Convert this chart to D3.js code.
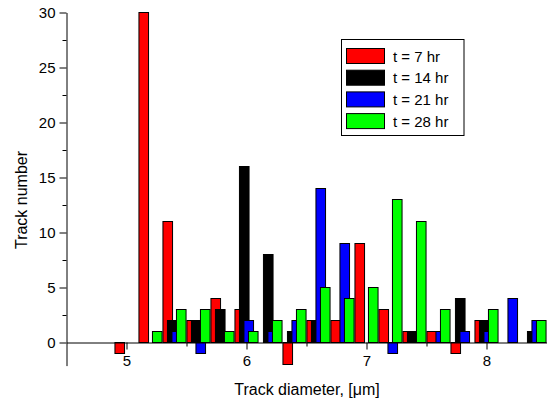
<!DOCTYPE html>
<html>
<head>
<meta charset="utf-8">
<script src="https://cdn.jsdelivr.net/npm/d3@7"></script>
<style>
  body { margin: 0; background: #fff; }
  svg text { font-family: "Liberation Sans", Arial, sans-serif; fill: #000; }
</style>
</head>
<body>
<script>
// frame constants
const FRAME_WIDTH = 547;
const FRAME_HEIGHT = 405;

// bin centers (track diameter, um)
const DIAMETERS = [5.0, 5.2, 5.4, 5.6, 5.8, 6.0, 6.2, 6.4, 6.6, 6.8, 7.0, 7.2, 7.4, 7.6, 7.8, 8.0, 8.2, 8.4];

// track counts per series
const T7 =  [-1, 30, 11, 2, 4, 3, 0, -2, 2, 2, 9, 3, 1, 1, -1, 2, 0, 0];
const T14 = [0, 0, 2, 2, 3, 16, 8, 1, 2, 0, 0, 0, 1, 0, 4, 2, 0, 1];
const T21 = [0, 0, 1, -1, 0, 2, 1, 2, 14, 9, 0, -1, 0, 1, 1, 1, 4, 2];
const T28 = [0, 1, 3, 3, 1, 1, 2, 3, 5, 4, 5, 13, 11, 3, 0, 3, 0, 2];

const SERIES_NAMES = ["t = 7 hr", "t = 14 hr", "t = 21 hr", "t = 28 hr"];
const SERIES_VALUES = [T7, T14, T21, T28];
const COLORS = ["#ff0000", "#000000", "#0000ff", "#00ff00"];

const X_TICKS = [5, 6, 7, 8];
const X_MINOR = [5.5, 6.5, 7.5];
const Y_TICKS = [0, 5, 10, 15, 20, 25, 30];
const Y_MINOR = [2.5, 7.5, 12.5, 17.5, 22.5, 27.5];

const BAR_WIDTH = 0.08;   // in um
const BAR_STEP = 0.0375;  // overlap offset between series

const FRAME = d3.select("body")
                .append("svg")
                  .attr("width", FRAME_WIDTH)
                  .attr("height", FRAME_HEIGHT);

const X_SCALE = d3.scaleLinear()
                  .domain([4.5, 8.5])
                  .range([66.5, 546.5]);

const Y_SCALE = d3.scaleLinear()
                  .domain([-2.1, 30])
                  .range([365.6, 12.5]);

// bars, one series after the other
SERIES_VALUES.forEach((vals, s) => {
  const off = (s - 1.5) * BAR_STEP;
  const rows = DIAMETERS.map((d, i) => ({x: d + off, v: vals[i]}))
                        .filter((r) => r.v !== 0);
  FRAME.append("g")
    .selectAll("rect")
    .data(rows)
    .enter()
    .append("rect")
      .attr("x", (d) => X_SCALE(d.x - BAR_WIDTH / 2))
      .attr("width", (d) => X_SCALE(d.x + BAR_WIDTH / 2) - X_SCALE(d.x - BAR_WIDTH / 2))
      .attr("y", (d) => Math.min(Y_SCALE(d.v), Y_SCALE(0)))
      .attr("height", (d) => Math.abs(Y_SCALE(d.v) - Y_SCALE(0)))
      .attr("fill", COLORS[s])
      .attr("stroke", "#000")
      .attr("stroke-width", 1);
});

// x axis sits at y = 0
const xAxis = FRAME.append("g")
  .attr("transform", "translate(0," + Y_SCALE(0) + ")")
  .call(d3.axisBottom(X_SCALE).tickValues(X_TICKS).tickFormat(d3.format("d"))
          .tickSize(7).tickSizeOuter(0).tickPadding(6));
FRAME.append("g")
  .attr("transform", "translate(0," + Y_SCALE(0) + ")")
  .call(d3.axisBottom(X_SCALE).tickValues(X_MINOR).tickSize(4).tickFormat(""))
  .select(".domain").remove();
xAxis.selectAll("text").style("font-size", "15px");

// y axis
const yAxis = FRAME.append("g")
  .attr("transform", "translate(" + X_SCALE(4.5) + ",0)")
  .call(d3.axisLeft(Y_SCALE).tickValues(Y_TICKS).tickSize(7).tickSizeOuter(0).tickPadding(4));
FRAME.append("g")
  .attr("transform", "translate(" + X_SCALE(4.5) + ",0)")
  .call(d3.axisLeft(Y_SCALE).tickValues(Y_MINOR).tickSize(4).tickFormat(""))
  .select(".domain").remove();
yAxis.selectAll("text").style("font-size", "15px");

FRAME.selectAll(".domain, .tick line").attr("stroke", "#000");

// axis titles
FRAME.append("text")
  .attr("x", 307)
  .attr("y", 395)
  .attr("text-anchor", "middle")
  .style("font-size", "16px")
  .text("Track diameter, [μm]");

FRAME.append("text")
  .attr("transform", "translate(27,200) rotate(-90)")
  .attr("text-anchor", "middle")
  .style("font-size", "16px")
  .text("Track number");

// legend
const LEGEND = FRAME.append("g");
LEGEND.append("rect")
  .attr("x", 341.5).attr("y", 39.5)
  .attr("width", 122.5).attr("height", 96)
  .attr("fill", "#fff")
  .attr("stroke", "#000");

SERIES_NAMES.forEach((name, i) => {
  const y0 = 48.5 + i * 21.7;
  LEGEND.append("rect")
    .attr("x", 346.5).attr("y", y0)
    .attr("width", 38).attr("height", 15)
    .attr("fill", COLORS[i])
    .attr("stroke", "#000");
  LEGEND.append("text")
    .attr("x", 393).attr("y", y0 + 13)
    .style("font-size", "15px")
    .text(name);
});
</script>
</body>
</html>
